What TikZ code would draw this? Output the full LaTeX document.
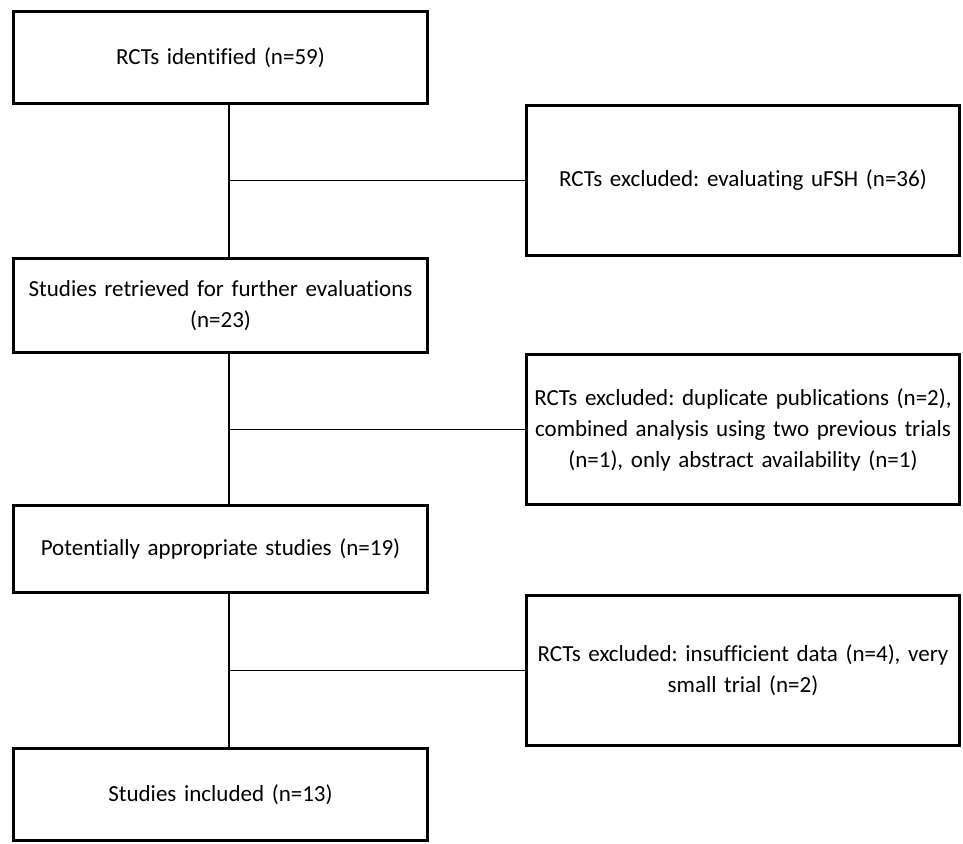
\documentclass[tikz,border=0pt]{standalone}
\usepackage{fontspec}
\setmainfont[Ligatures=NoCommon]{Carlito}
\frenchspacing
\begin{document}
\begin{tikzpicture}[x=1pt,y=1pt,
  box/.style={draw,line width=2.6pt,inner sep=0pt,align=center,font=\fontsize{23}{31}\selectfont},
  lbox/.style={box,minimum width=414pt,text width=408pt},
  rbox/.style={box,minimum width=433pt,text width=431pt,minimum height=150pt},
  conn/.style={line width=1.8pt}]
\useasboundingbox (0,0) rectangle (963,-843);
\node[lbox,minimum height=92pt] (b1) at (220.5,-57.5) {RCTs identified (n=59)};
\node[rbox] (b2) at (743,-180.5) {RCTs excluded: evaluating uFSH (n=36)};
\node[lbox,minimum height=94pt] (b3) at (220.5,-305.5) {Studies retrieved for further evaluations\\(n=23)};
\node[rbox] (b4) at (743,-429.5) {RCTs excluded: duplicate publications (n=2),\\combined analysis using two previous trials\\(n=1), only abstract availability (n=1)};
\node[lbox,minimum height=87pt] (b5) at (220.5,-549) {Potentially appropriate studies (n=19)};
\node[rbox] (b6) at (743,-670.5) {RCTs excluded: insufficient data (n=4), very\\small trial (n=2)};
\node[lbox,minimum height=92pt] (b7) at (220.5,-794.5) {Studies included (n=13)};
\coordinate (t) at (229,0);
\draw[conn] (b1.south -| t) -- (b3.north -| t);
\draw[conn] (b2.west -| t) -- (b2.west);
\draw[conn] (b3.south -| t) -- (b5.north -| t);
\draw[conn] (b4.west -| t) -- (b4.west);
\draw[conn] (b5.south -| t) -- (b7.north -| t);
\draw[conn] (b6.west -| t) -- (b6.west);
\end{tikzpicture}
\end{document}
